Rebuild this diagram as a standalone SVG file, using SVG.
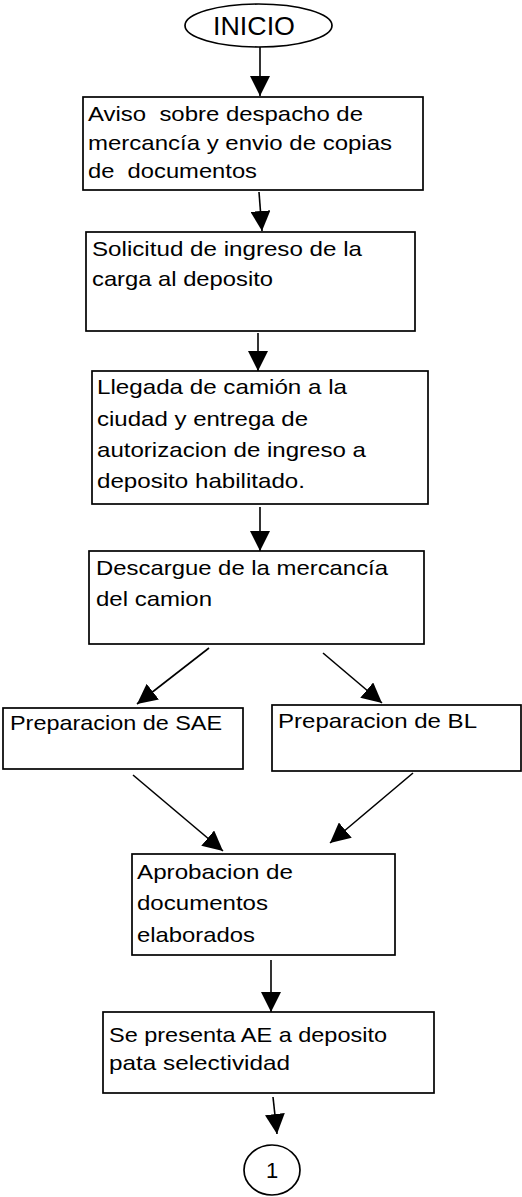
<svg xmlns="http://www.w3.org/2000/svg" width="522" height="1197" viewBox="0 0 522 1197">
<style>
.box{fill:#fff;stroke:#000;stroke-width:1.7}
.t{font-family:"Liberation Sans",Arial,sans-serif;font-size:21px;fill:#000;white-space:pre}
.c line{stroke:#000;stroke-width:1.6;marker-end:url(#ah)}
</style>
<defs>
<marker id="ah" viewBox="0 0 20 20" refX="20" refY="10" markerWidth="20" markerHeight="20" markerUnits="userSpaceOnUse" orient="auto">
<path d="M0,0 L20,10 L0,20 z" fill="#000"/>
</marker>
</defs>
<rect width="522" height="1197" fill="#fff"/>
<g id="inicio">
<ellipse cx="258.5" cy="25.5" rx="73.5" ry="21.5" class="box"/>
<text class="t" x="213" y="35" style="font-size:25px" textLength="82" lengthAdjust="spacingAndGlyphs">INICIO</text>
</g>
<g id="aviso">
<rect x="83" y="97" width="340" height="93" class="box"/>
<text class="t" x="88" y="121" textLength="275" lengthAdjust="spacingAndGlyphs" xml:space="preserve">Aviso  sobre despacho de</text>
<text class="t" x="88" y="150" textLength="304" lengthAdjust="spacingAndGlyphs">mercancía y envio de copias</text>
<text class="t" x="88" y="178" textLength="169" lengthAdjust="spacingAndGlyphs" xml:space="preserve">de  documentos</text>
</g>
<g id="solicitud">
<rect x="86" y="232" width="329" height="99" class="box"/>
<text class="t" x="92" y="256" textLength="270" lengthAdjust="spacingAndGlyphs">Solicitud de ingreso de la</text>
<text class="t" x="92" y="286" textLength="181" lengthAdjust="spacingAndGlyphs">carga al deposito</text>
</g>
<g id="llegada">
<rect x="92" y="371" width="336" height="133" class="box"/>
<text class="t" x="97" y="394" textLength="250" lengthAdjust="spacingAndGlyphs">Llegada de camión a la</text>
<text class="t" x="97" y="426" textLength="211" lengthAdjust="spacingAndGlyphs">ciudad y entrega de</text>
<text class="t" x="97" y="457" textLength="269" lengthAdjust="spacingAndGlyphs">autorizacion de ingreso a</text>
<text class="t" x="97" y="488" textLength="208" lengthAdjust="spacingAndGlyphs">deposito habilitado.</text>
</g>
<g id="descargue">
<rect x="89" y="551" width="335" height="93" class="box"/>
<text class="t" x="96" y="575" textLength="292" lengthAdjust="spacingAndGlyphs">Descargue de la mercancía</text>
<text class="t" x="96" y="606" textLength="116" lengthAdjust="spacingAndGlyphs">del camion</text>
</g>
<g id="sae">
<rect x="3" y="708" width="240" height="61" class="box"/>
<text class="t" x="10" y="730" textLength="212" lengthAdjust="spacingAndGlyphs">Preparacion de SAE</text>
</g>
<g id="bl">
<rect x="272" y="705" width="249" height="66" class="box"/>
<text class="t" x="278" y="728" textLength="199" lengthAdjust="spacingAndGlyphs">Preparacion de BL</text>
</g>
<g id="aprobacion">
<rect x="132" y="854" width="263" height="101" class="box"/>
<text class="t" x="137" y="879" textLength="156" lengthAdjust="spacingAndGlyphs">Aprobacion de</text>
<text class="t" x="137" y="910" textLength="131" lengthAdjust="spacingAndGlyphs">documentos</text>
<text class="t" x="137" y="942" textLength="118" lengthAdjust="spacingAndGlyphs">elaborados</text>
</g>
<g id="presenta">
<rect x="103" y="1012" width="331" height="81" class="box"/>
<text class="t" x="109" y="1042" textLength="278" lengthAdjust="spacingAndGlyphs">Se presenta AE a deposito</text>
<text class="t" x="109" y="1070" textLength="181" lengthAdjust="spacingAndGlyphs">pata selectividad</text>
</g>
<g id="conector1">
<ellipse cx="272" cy="1170" rx="28" ry="25" class="box"/>
<text class="t" x="272" y="1178" text-anchor="middle" style="font-size:22px">1</text>
</g>
<g id="connectors" class="c">
<line x1="260" y1="47" x2="260" y2="96"/>
<line x1="259" y1="192" x2="262" y2="231"/>
<line x1="258" y1="333" x2="258" y2="371"/>
<line x1="260" y1="507" x2="260" y2="551"/>
<line x1="209" y1="648" x2="137" y2="704"/>
<line x1="323" y1="653" x2="382" y2="703"/>
<line x1="133" y1="775" x2="223" y2="851"/>
<line x1="413" y1="773" x2="330" y2="843"/>
<line x1="271" y1="960" x2="271" y2="1012"/>
<line x1="273" y1="1097" x2="277" y2="1134"/>
</g>
</svg>
